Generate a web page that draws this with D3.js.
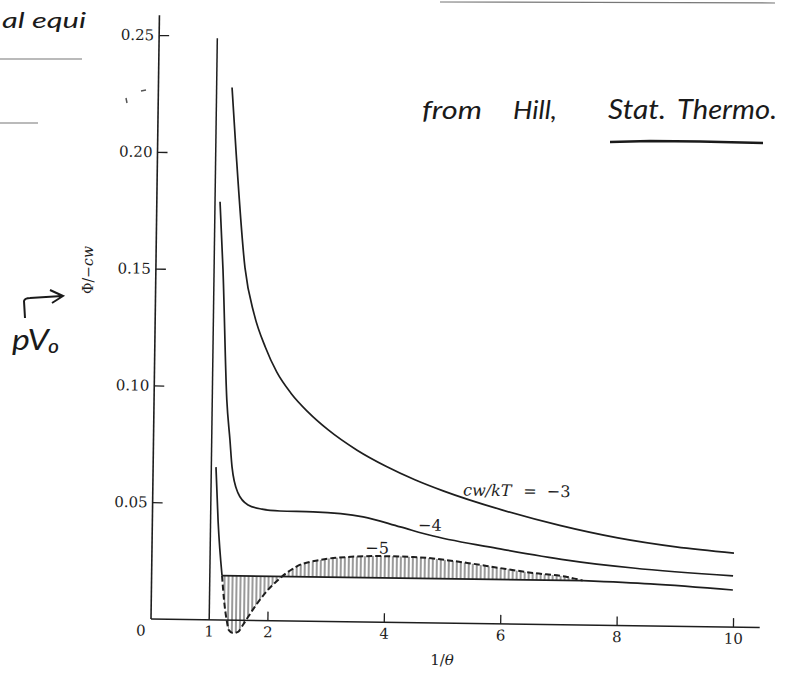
<!DOCTYPE html>
<html><head><meta charset="utf-8">
<script src="https://cdn.jsdelivr.net/npm/d3@7"></script>
<style>body{margin:0;background:#fff} svg{display:block}</style>
</head><body>
<svg id="c" width="792" height="687"></svg>
<script>
// ---------------- data ----------------
const xTicks = [2, 4, 6, 8, 10];
const yTicks = [0.05, 0.10, 0.15, 0.20, 0.25];
const yTickLabels = ["0.05", "0.10", "0.15", "0.20", "0.25"];
const criticalLine = [[1, 0], [1, 0.249]];
// cw/kT = -3
const curveM3 = [[1.265,0.228],[1.348,0.201],[1.53,0.151],[1.70,0.131],[1.90,0.117],[2.10,0.1065],
  [2.35,0.0975],[2.65,0.0895],[3.0,0.082],[3.5,0.0735],[4.0,0.0668],[4.5,0.0612],[5.0,0.0565],
  [6.0,0.0488],[7.0,0.0425],[8.0,0.0375],[9.0,0.0340],[10.0,0.0317]];
// cw/kT = -4
const curveM4 = [[1.086,0.179],[1.153,0.150],[1.25,0.0942],[1.314,0.077],[1.356,0.0655],[1.464,0.0545],
  [1.64,0.0494],[1.88,0.0477],[2.19,0.047],[2.76,0.0468],[3.62,0.045],[4.26,0.0409],[4.83,0.0372],
  [5.98,0.0321],[7.13,0.0277],[8.27,0.0247],[9.99,0.0219]];
// cw/kT = -5 : solid spike, dashed van der Waals loop, solid tail
const curveM5Spike = [[1.08,0.0654],[1.13,0.042],[1.21,0.019]];
const curveM5Loop = [[1.21,0.019],[1.25,0.0086],[1.306,-0.0008],[1.34,-0.0043],[1.41,-0.0055],[1.498,-0.005],
  [1.58,-0.002],[1.78,0.0058],[1.986,0.0127],[2.21,0.0183],[2.50,0.0235],[2.89,0.0263],[3.35,0.0277],
  [3.92,0.0283],[4.49,0.0281],[5.42,0.0259],[5.98,0.0239],[6.55,0.022],[7.14,0.0205],[7.41,0.019]];
const curveM5Tail = [[7.41,0.019],[8.57,0.018],[9.99,0.0159]];
const tieLevelM5 = 0.019;
const tieLineM5 = [[1.21, 0.019], [7.41, 0.019]];
const curveLabels = [{t:"\u22124", x:4.77, y:0.0419}, {t:"\u22125", x:3.87, y:0.0318}];
const mainLabel = {x:5.33, y:0.0571};

// ---------------- drawing ----------------
const svg = d3.select("#c");
const ink = "#1e1e1e";
const x = d3.scaleLinear().domain([0, 10]).range([0, 582]);
const y = d3.scaleLinear().domain([0, 0.25]).range([0, -584]);

const defs = svg.append("defs");
defs.append("pattern").attr("id","hatch").attr("patternUnits","userSpaceOnUse")
  .attr("width",4).attr("height",12)
  .append("line").attr("x1",1).attr("x2",1).attr("y1",0).attr("y2",12)
  .attr("stroke","#333").attr("stroke-width",1);

const g = svg.append("g").attr("transform","translate(151,619) rotate(0.8)");

// hatched area between loop and tie line
g.append("path").datum(curveM5Loop)
  .attr("d", d3.area().x(d=>x(d[0])).y0(y(tieLevelM5)).y1(d=>y(d[1])).curve(d3.curveMonotoneX))
  .attr("fill","url(#hatch)").attr("stroke","none");

// axes
const yAxis = d3.axisLeft(y).tickValues(yTicks).tickSizeInner(-10).tickSizeOuter(0).tickPadding(5)
  .tickFormat((d,i)=>yTickLabels[i]);
const ya = g.append("g").call(yAxis);
const xAxis = d3.axisBottom(x).tickValues(xTicks).tickSizeInner(-9).tickSizeOuter(0).tickPadding(6)
  .tickFormat(d3.format("d"));
const xa = g.append("g").call(xAxis);
[ya, xa].forEach(a=>{
  a.select(".domain").remove();
  a.selectAll("line").attr("stroke",ink).attr("stroke-width",1.3);
  a.selectAll("text").attr("fill",ink).style("font-family","'DejaVu Serif', serif").style("font-size","15px");
});
const line = d3.line().x(d=>x(d[0])).y(d=>y(d[1]));
g.append("path").datum([[0,0],[10.46,0]]).attr("d",line).attr("stroke",ink).attr("stroke-width",1.6).attr("fill","none");
g.append("path").datum([[0,0],[0,0.2585]]).attr("d",line).attr("stroke",ink).attr("stroke-width",1.6).attr("fill","none");
// extra x labels "0" and "1"
g.append("text").attr("x", x(0)-10).attr("y", 6).attr("dy","0.71em").attr("text-anchor","middle")
  .attr("fill",ink).style("font-family","'DejaVu Serif', serif").style("font-size","15px").text("0");
g.append("text").attr("x", x(1)).attr("y", 6).attr("dy","0.71em").attr("text-anchor","middle")
  .attr("fill",ink).style("font-family","'DejaVu Serif', serif").style("font-size","15px").text("1");

// curves
const smooth = d3.line().x(d=>x(d[0])).y(d=>y(d[1])).curve(d3.curveMonotoneX);
g.append("path").datum(criticalLine).attr("d",line).attr("stroke",ink).attr("stroke-width",1.5).attr("fill","none");
[curveM3, curveM4, curveM5Spike, curveM5Tail].forEach(c=>{
  g.append("path").datum(c).attr("d",smooth).attr("stroke",ink).attr("stroke-width",1.7).attr("fill","none");
});
g.append("path").datum(tieLineM5).attr("d",line).attr("stroke",ink).attr("stroke-width",1.7).attr("fill","none");
g.append("path").datum(curveM5Loop).attr("d",smooth).attr("stroke",ink).attr("stroke-width",2)
  .attr("stroke-dasharray","6,3").attr("fill","none");

// curve labels
const lab = g.append("text").attr("x",x(mainLabel.x)).attr("y",y(mainLabel.y)).attr("dy","0.35em")
  .attr("fill",ink).style("font-family","'DejaVu Serif', serif").style("font-size","16px");
lab.append("tspan").style("font-style","italic").text("cw/kT");
lab.append("tspan").attr("dx",12).text("=");
lab.append("tspan").attr("dx",10).text("\u22123");
curveLabels.forEach(l=>{
  g.append("text").attr("x",x(l.x)).attr("y",y(l.y)).attr("dy","0.35em").attr("text-anchor","middle")
    .attr("fill",ink).style("font-family","'DejaVu Serif', serif").style("font-size","16px").text(l.t);
});

// axis titles
const xt = svg.append("text").attr("x",442).attr("y",665).attr("text-anchor","middle")
  .attr("fill",ink).style("font-family","'DejaVu Serif', serif").style("font-size","15px");
xt.append("tspan").text("1/");
xt.append("tspan").style("font-style","italic").text("\u03b8");
const yt = svg.append("text").attr("transform","translate(93,270) rotate(-90)").attr("text-anchor","middle")
  .attr("fill",ink).style("font-family","'DejaVu Serif', serif").style("font-size","14px");
yt.append("tspan").text("\u03a6/\u2212");
yt.append("tspan").style("font-style","italic").text("cw");

// handwritten notes
const hand = {fill:"#1a1a1a", family:"Lato, 'Open Sans', sans-serif"};
function note(t, xx, yy, size, len){
  const e = svg.append("text").attr("x",xx).attr("y",yy).attr("fill",hand.fill)
    .style("font-family",hand.family).style("font-style","italic").style("font-weight","400")
    .style("font-size",size+"px").text(t);
  if(len) e.attr("textLength",len).attr("lengthAdjust","spacingAndGlyphs");
  return e;
}
note("from", 422, 119, 25, 60);
note("Hill,", 513, 119, 25, 44);
note("Stat.", 608, 119, 27, 58);
note("Thermo.", 677, 119, 27, 100);
svg.append("path").attr("d","M610,142 L650,141 L700,141.5 L763,143").attr("stroke","#1a1a1a")
  .attr("stroke-width",2.6).attr("fill","none");
note("pV\u2080", 12, 350, 28, 48);
svg.append("path").attr("d","M25,318 L24,301 Q25,298 30,298 L62,296 M50,290 L63,296 L52,303")
  .attr("stroke","#1a1a1a").attr("stroke-width",2).attr("fill","none");
note("al equi", 2, 28, 22, 84);
// faint ruled lines and specks of the sheet
[[0,59,82,59],[0,123,38,123],[440,2,775,3]].forEach(l=>{
  svg.append("line").attr("x1",l[0]).attr("y1",l[1]).attr("x2",l[2]).attr("y2",l[3])
    .attr("stroke","#777").attr("stroke-width",1.2);
});
svg.append("path").attr("d","M126,98 L127,103 M141,91 L146,90").attr("stroke","#555").attr("stroke-width",1.5).attr("fill","none");
</script>
</body></html>
